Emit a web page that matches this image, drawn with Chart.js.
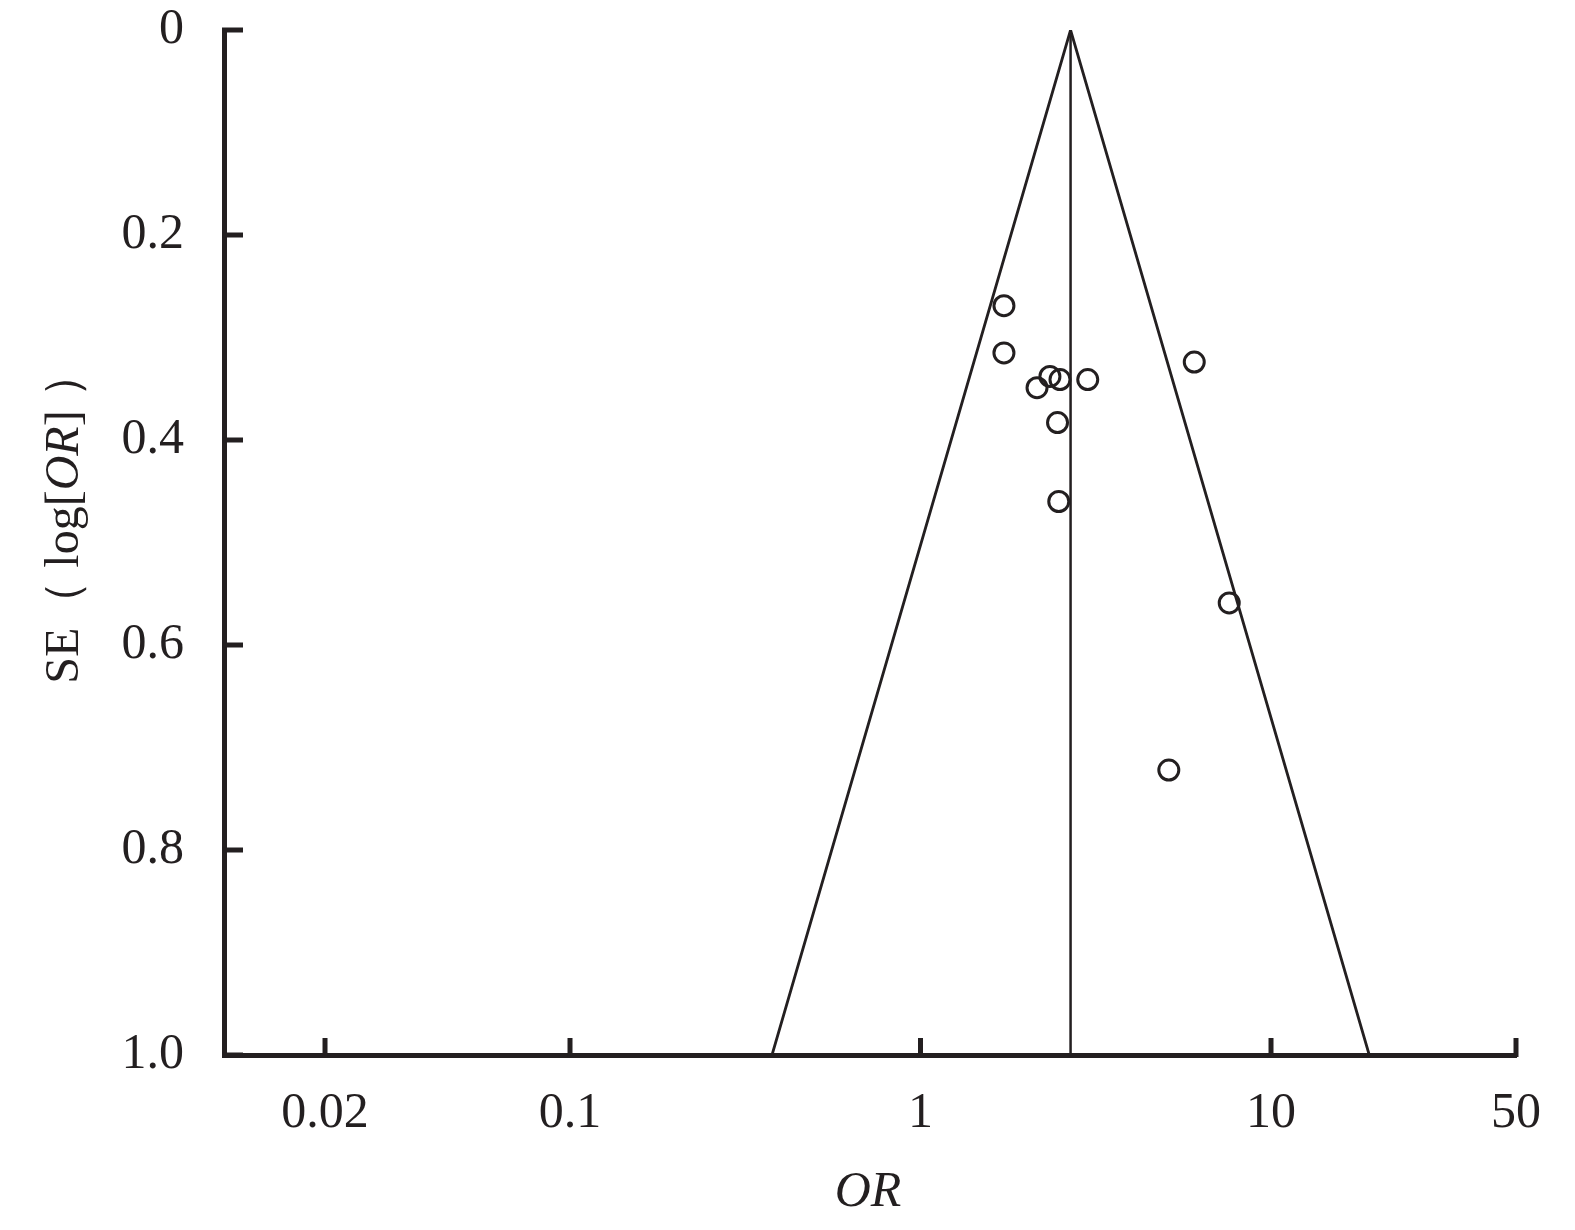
<!DOCTYPE html>
<html>
<head>
<meta charset="utf-8">
<script src="https://cdn.jsdelivr.net/npm/chart.js@4.4.0/dist/chart.umd.min.js"></script>
<style>
  html, body { margin: 0; padding: 0; background: #fff; }
  #wrap { width: 1575px; height: 1230px; position: relative; }
</style>
</head>
<body>
<div id="wrap"><canvas id="funnel"></canvas></div>
<script>
// study estimates
const studyOR = [1.73, 1.73, 2.34, 2.50, 2.15, 3.00, 2.46, 2.48, 6.04, 7.60, 5.11];
const studySE = [0.269, 0.315, 0.338, 0.341, 0.349, 0.341, 0.383, 0.460, 0.324, 0.559, 0.722];

// pooled estimate line and funnel limits
const pooledOR = [2.68, 2.68];
const pooledSE = [0, 1.0];
const funnelOR = [0.377, 2.68, 19.07];
const funnelSE = [1.0, 0, 1.0];

const xTicks = [0.02, 0.1, 1, 10, 50];
const yTicks = [0, 0.2, 0.4, 0.6, 0.8, 1.0];

const ink = '#231f20';
const serif = '"Liberation Serif", "DejaVu Serif", serif';

const toPoints = (xs, ys) => xs.map((x, i) => ({ x: x, y: ys[i] }));

// ticks point into the plot area
const innerTicks = {
  id: 'innerTicks',
  afterDraw(chart) {
    const ctx = chart.ctx;
    const xs = chart.scales.x, ys = chart.scales.y;
    const area = chart.chartArea;
    ctx.save();
    ctx.strokeStyle = ink;
    ctx.lineWidth = 5;
    ys.ticks.forEach(t => {
      const py = ys.getPixelForValue(t.value);
      ctx.beginPath();
      ctx.moveTo(area.left - 2, py);
      ctx.lineTo(area.left + 19, py);
      ctx.stroke();
    });
    xs.ticks.forEach(t => {
      const px = xs.getPixelForValue(t.value);
      ctx.beginPath();
      ctx.moveTo(px, area.bottom + 2);
      ctx.lineTo(px, area.bottom - 17);
      ctx.stroke();
    });
    ctx.restore();
  }
};

// axis titles with italic OR
function drawParts(ctx, parts, cx, cy) {
  let total = 0;
  parts.forEach(p => { ctx.font = p.font; p.w = ctx.measureText(p.text).width; total += p.w; });
  let x = cx - total / 2;
  parts.forEach(p => {
    ctx.font = p.font;
    ctx.fillText(p.text, x, cy);
    x += p.w;
  });
}

const axisTitles = {
  id: 'axisTitles',
  afterDraw(chart) {
    const ctx = chart.ctx;
    const area = chart.chartArea;
    ctx.save();
    ctx.fillStyle = ink;
    ctx.textBaseline = 'alphabetic';
    ctx.textAlign = 'left';
    drawParts(ctx, [{ text: 'OR', font: 'italic 50px ' + serif }], (area.left + area.right) / 2 - 2, 1206);

    ctx.translate(78, 517);
    ctx.rotate(-Math.PI / 2);
    const reg = '48px ' + serif;
    drawParts(ctx, [
      { text: 'SE', font: reg },
      { text: '（ ', font: reg },
      { text: 'log[', font: reg },
      { text: 'OR', font: 'italic 48px ' + serif },
      { text: ']', font: reg },
      { text: ' ）', font: reg }
    ], 0, 0);
    ctx.restore();
  }
};

new Chart(document.getElementById('funnel'), {
  type: 'scatter',
  data: {
    datasets: [
      {
        label: 'Studies',
        data: toPoints(studyOR, studySE),
        pointStyle: 'circle',
        pointRadius: 10,
        pointHoverRadius: 10,
        pointBorderWidth: 3,
        borderColor: ink,
        backgroundColor: 'rgba(0,0,0,0)',
        showLine: false
      },
      {
        label: 'Pooled',
        data: toPoints(pooledOR, pooledSE),
        showLine: true,
        borderColor: ink,
        borderWidth: 2.5,
        pointRadius: 0
      },
      {
        label: 'Funnel',
        data: toPoints(funnelOR, funnelSE),
        showLine: true,
        borderColor: ink,
        borderWidth: 2.8,
        pointRadius: 0
      }
    ]
  },
  options: {
    responsive: true,
    maintainAspectRatio: false,
    animation: false,
    layout: { padding: { left: 0, top: 30, right: 59, bottom: 0 } },
    plugins: {
      legend: { display: false },
      tooltip: { enabled: false }
    },
    scales: {
      x: {
        type: 'logarithmic',
        min: 0.0103,
        max: 50,
        afterBuildTicks: s => { s.ticks = xTicks.map(v => ({ value: v })); },
        afterFit: s => { s.height = 175; },
        grid: { display: true, drawOnChartArea: false, drawTicks: false },
        border: { display: true, color: ink, width: 5 },
        ticks: {
          color: ink,
          font: { family: serif, size: 50 },
          padding: 29,
          maxRotation: 0,
          autoSkip: false,
          callback: v => String(v)
        }
      },
      y: {
        type: 'linear',
        reverse: true,
        min: 0,
        max: 1,
        afterBuildTicks: s => { s.ticks = yTicks.map(v => ({ value: v })); },
        afterFit: s => { s.width = 224; s.paddingTop = 0; s.paddingBottom = 0; },
        grid: { display: true, drawOnChartArea: false, drawTicks: false },
        border: { display: true, color: ink, width: 5 },
        ticks: {
          color: ink,
          font: { family: serif, size: 50 },
          padding: 40,
          autoSkip: false,
          callback: v => (v === 0 ? '0' : v.toFixed(1))
        }
      }
    }
  },
  plugins: [innerTicks, axisTitles]
});
</script>
</body>
</html>
